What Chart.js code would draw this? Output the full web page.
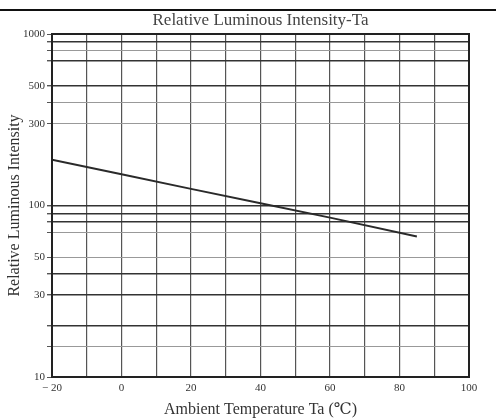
<!DOCTYPE html>
<html>
<head>
<meta charset="utf-8">
<script src="https://cdn.jsdelivr.net/npm/chart.js@4"></script>
<style>
html,body{margin:0;padding:0;background:#fff;}
#wrap{position:relative;width:496px;height:419px;}
#topline{position:absolute;left:0;top:9px;width:496px;height:2px;background:#111;}
canvas{position:absolute;left:0;top:0;}
</style>
</head>
<body>
<div id="wrap">
<canvas id="c" width="496" height="419"></canvas>
<div id="topline"></div>
</div>
<script>
const temperatures = [-20, 0, 20, 40, 60, 85];
const intensity = [185, 152, 125, 103, 85, 66];
const yTickValues = [10, 15, 20, 30, 40, 50, 70, 80, 90, 100, 300, 400, 500, 700, 800, 900, 1000];
const yTickLabels = [10, 30, 50, 100, 300, 500, 1000];
const xTickLabels = [-20, 0, 20, 40, 60, 80, 100];

const serif = "'Liberation Serif', 'DejaVu Serif', serif";
const darkY = [20, 30, 40, 80, 90, 100, 500, 700, 900];

new Chart(document.getElementById('c'), {
  type: 'line',
  data: {
    datasets: [{
      data: temperatures.map((t, i) => ({x: t, y: intensity[i]})),
      borderColor: '#2a2a2a',
      borderWidth: 2,
      pointRadius: 0,
      tension: 0,
      fill: false
    }]
  },
  options: {
    responsive: false,
    animation: false,
    devicePixelRatio: 1,
    layout: {padding: {top: 0, right: 27, left: 0, bottom: 0}},
    plugins: {
      legend: {display: false},
      tooltip: {enabled: false},
      title: {
        display: true,
        fullSize: false,
        text: 'Relative Luminous Intensity-Ta',
        color: '#444',
        font: {family: serif, size: 17, weight: 'normal'},
        padding: {top: 10, bottom: 3.6}
      }
    },
    scales: {
      x: {
        type: 'linear',
        min: -20,
        max: 100,
        afterFit: s => { s.height = 42; },
        ticks: {
          stepSize: 10,
          autoSkip: false,
          maxRotation: 0,
          color: '#333',
          padding: 5,
          font: {family: serif, size: 11},
          callback: v => xTickLabels.includes(v) ? (v < 0 ? '\u2212 ' + Math.abs(v) : String(v)) : ''
        },
        grid: {
          color: '#555',
          lineWidth: 1.2,
          drawTicks: false
        },
        border: {color: '#222', width: 2},
        title: {
          display: true,
          text: 'Ambient Temperature Ta (\u2103)',
          color: '#333',
          font: {family: serif, size: 16},
          padding: {top: 2, bottom: 0}
        }
      },
      y: {
        type: 'logarithmic',
        min: 10,
        max: 1000,
        afterFit: s => { s.width = 52; },
        afterBuildTicks: s => { s.ticks = yTickValues.map(v => ({value: v})); },
        ticks: {
          autoSkip: false,
          color: '#333',
          padding: 2,
          font: {family: serif, size: 11},
          callback: v => yTickLabels.includes(v) ? String(v) : ''
        },
        grid: {
          color: c => (c.tick && darkY.includes(c.tick.value)) ? '#333' : '#999',
          lineWidth: c => (c.tick && darkY.includes(c.tick.value)) ? 1.4 : 1,
          tickLength: 5,
          tickColor: '#555'
        },
        border: {color: '#222', width: 2},
        title: {
          display: true,
          text: 'Relative Luminous Intensity',
          color: '#333',
          font: {family: serif, size: 16},
          padding: {top: 5, bottom: 0}
        }
      }
    }
  },
  plugins: [{
    id: 'frame',
    afterDraw(chart) {
      const a = chart.chartArea, ctx = chart.ctx;
      ctx.save();
      ctx.strokeStyle = '#222';
      ctx.lineWidth = 2;
      ctx.strokeRect(a.left, a.top, a.right - a.left, a.bottom - a.top);
      ctx.restore();
    }
  }]
});
</script>
</body>
</html>
